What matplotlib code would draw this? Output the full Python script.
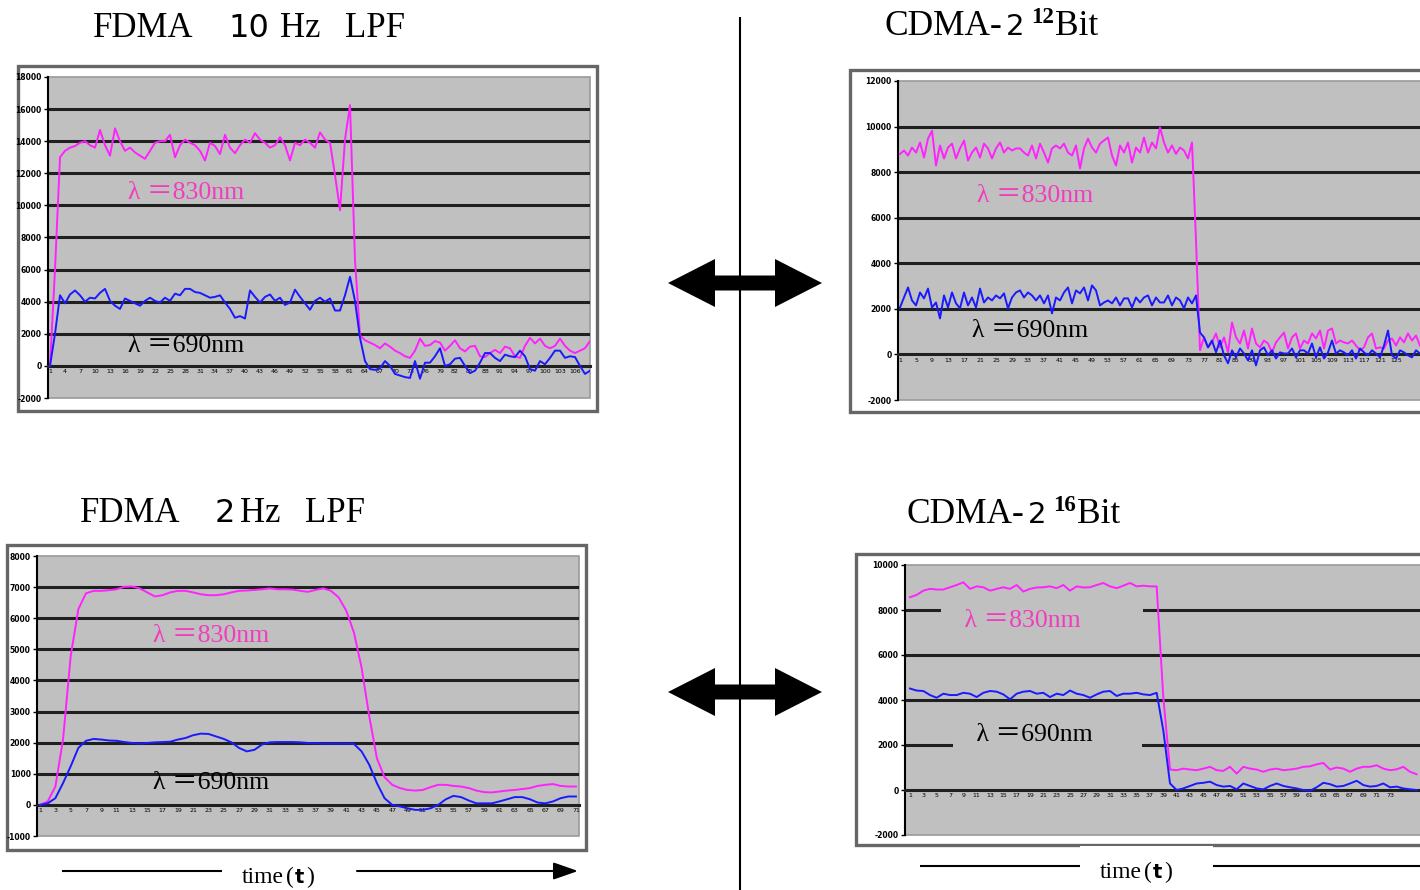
import numpy as np
import matplotlib
matplotlib.use('Agg')
import matplotlib.pyplot as plt
from matplotlib.patches import Rectangle, FancyArrow

W, H = 1420, 890

# ---- FDMA 10Hz LPF (top left) ----
fdma10_pink = [
    0, 6000, 13000, 13400, 13600, 13700, 13900, 14000, 13750, 13600,
    14700, 13750, 13100, 14800, 14000, 13400, 13600, 13300, 13100, 12900,
    13400, 13900, 14000, 14000, 14400, 13000, 13750, 14100, 13900, 13750,
    13400, 12800, 13900, 13700, 13200, 14400, 13600, 13250, 13750, 14100,
    13900, 14500, 14100, 13900, 13600, 13750, 14250, 13750, 12800, 13900,
    13750, 14100, 13900, 13600, 14550, 14100, 13900, 11900, 9700, 14100,
    16250, 6600, 1900, 1600, 1450, 1300, 1100, 1400, 1200, 950,
    800, 600, 500, 950, 1700, 1250, 1300, 1550, 1450, 950,
    1250, 1600, 1100, 900, 1200, 1250, 600, 550, 800, 1000,
    800, 1200, 1100, 600, 500, 1250, 1750, 1400, 1700, 1250,
    1100, 1250, 1700, 1250, 950, 800, 950, 1100, 1550]
fdma10_blue = [
    0, 2000, 4400, 3900, 4450, 4700, 4400, 4000, 4250, 4200,
    4550, 4800, 4050, 3750, 3550, 4200, 4050, 3900, 3750, 4050,
    4250, 4050, 3950, 4250, 4050, 4500, 4400, 4800, 4800, 4600,
    4550, 4400, 4250, 4300, 4400, 3950, 3550, 3000, 3100, 2950,
    4700, 4300, 3950, 4300, 4450, 4050, 4250, 3800, 3950, 4750,
    4300, 3900, 3500, 4050, 4250, 4000, 4200, 3450, 3450, 4400,
    5550, 4050, 1750, 300, -200, -250, -150, 300, 0, -500,
    -600, -700, -750, 300, -800, 200, 200, 600, 1100, 0,
    100, 450, 500, 0, -450, -300, 200, 800, 800, 500,
    300, 700, 600, 550, 950, 600, -200, -300, 300, 100,
    500, 950, 950, 500, 600, 550, 0, -500, -300]
fdma10_yticks = [-2000, 0, 2000, 4000, 6000, 8000, 10000, 12000, 14000, 16000, 18000]

# ---- CDMA 2^12 bit (top right) ----
cdma12_pink = [
    8800, 8950, 8730, 9080, 8860, 9300, 8640, 9470, 9820, 8290,
    9170, 8600, 9080, 9250, 8600, 9040, 9390, 8510, 8860, 9080,
    8640, 9250, 9040, 8600, 9040, 9300, 8860, 9080, 8950, 9040,
    9040, 8860, 8730, 9170, 8600, 9250, 8860, 8420, 9040, 9170,
    9040, 9250, 8860, 8730, 9170, 8160, 9040, 9470, 9080, 8860,
    9250, 9390, 9520, 8730, 8290, 9170, 8860, 9300, 8420, 9080,
    8860, 9520, 8860, 9300, 9040, 9960, 9300, 8860, 9170, 8800,
    9080, 8950, 8600, 9300, 5000, 180, 750, 310, 530, 920,
    310, 750, 90, 1400, 750, 480, 1050, 260, 1140, 480,
    310, 610, 480, 90, 530, 750, 960, 260, 750, 920,
    260, 610, 480, 920, 700, 1050, 260, 1050, 1140, 480,
    610, 530, 480, 610, 390, 180, 310, 750, 920, 260,
    310, 260, 610, 700, 390, 750, 530, 920, 610, 830,
    390]
cdma12_blue = [
    2060, 2500, 2940, 2370, 2150, 2720, 2460, 2890, 2060, 2280,
    1580, 2590, 2060, 2720, 2240, 2020, 2720, 2150, 2500, 2060,
    2890, 2280, 2500, 2370, 2590, 2460, 2680, 2020, 2500, 2720,
    2810, 2500, 2720, 2590, 2370, 2590, 2240, 2590, 1800, 2500,
    2370, 2720, 2940, 2240, 2810, 2680, 2940, 2370, 3030, 2810,
    2150, 2280, 2370, 2240, 2500, 2150, 2460, 2460, 2060, 2500,
    2280, 2500, 2590, 2150, 2500, 2280, 2280, 2590, 2150, 2500,
    2370, 2020, 2500, 2240, 2590, 960, 750, 310, 610, 90,
    610, -40, -390, 180, -130, 260, 40, -260, 180, -480,
    180, 310, -40, 180, -180, 90, 40, 40, 260, -130,
    180, 180, 40, 480, -130, 310, -180, 90, 610, 40,
    180, 90, -40, 180, -180, 260, 90, -40, 180, 40,
    -130, 390, 1050, -40, -180, 180, 90, -40, -130, 180,
    40]
cdma12_yticks = [-2000, 0, 2000, 4000, 6000, 8000, 10000, 12000]

# ---- FDMA 2Hz LPF (bottom left) ----
fdma2_pink = [
    0, 110, 590, 2100, 4780, 6290, 6800, 6880, 6880, 6900,
    6930, 7010, 7020, 6960, 6830, 6700, 6740, 6830, 6880, 6880,
    6830, 6770, 6740, 6740, 6770, 6830, 6880, 6890, 6910, 6930,
    6960, 6930, 6930, 6920, 6880, 6850, 6910, 6960, 6880, 6670,
    6240, 5540, 4410, 2850, 1500, 890, 645, 540, 480, 460,
    480, 570, 645, 645, 610, 590, 540, 460, 410, 400,
    430, 460, 480, 510, 540, 610, 645, 670, 610, 590,
    590]
fdma2_blue = [
    0, 50, 215, 700, 1240, 1830, 2060, 2120, 2100, 2070,
    2060, 2020, 1990, 1970, 1990, 2010, 2020, 2030, 2100, 2150,
    2240, 2290, 2280, 2200, 2120, 2010, 1830, 1720, 1770, 1940,
    2010, 2020, 2020, 2020, 2010, 1990, 1980, 1970, 1970, 1970,
    1970, 1960, 1720, 1290, 700, 215, 0, -50, -110, -160,
    -160, -110, 0, 180, 290, 250, 140, 50, 50, 50,
    110, 180, 250, 250, 180, 75, 50, 110, 215, 270,
    270]
fdma2_yticks = [-1000, 0, 1000, 2000, 3000, 4000, 5000, 6000, 7000, 8000]

# ---- CDMA 2^16 bit (bottom right) ----
cdma16_pink = [
    8570, 8670, 8860, 8940, 8910, 8910, 9010, 9110, 9230, 8940,
    9050, 9010, 8860, 8940, 9010, 8940, 9110, 8820, 8940, 9000,
    9010, 9050, 8970, 9110, 8860, 9050, 9000, 9010, 9110, 9200,
    9050, 8970, 9080, 9200, 9050, 9080, 9050, 9050, 4100, 910,
    880, 950, 910, 880, 950, 1030, 880, 850, 1030, 730,
    1030, 950, 910, 810, 910, 950, 880, 910, 950, 1030,
    1050, 1140, 1200, 910, 1000, 950, 810, 950, 1030, 1030,
    1100, 950, 880, 920, 1030, 810, 700]
cdma16_blue = [
    4510, 4420, 4400, 4220, 4100, 4280, 4220, 4220, 4320, 4280,
    4130, 4320, 4400, 4370, 4250, 4030, 4280, 4370, 4400, 4280,
    4320, 4130, 4280, 4220, 4420, 4280, 4220, 4100, 4250, 4370,
    4400, 4180, 4280, 4280, 4320, 4250, 4220, 4320, 2640, 290,
    0, 70, 180, 290, 320, 370, 220, 150, 180, 30,
    290, 180, 70, 30, 180, 290, 180, 120, 70, 0,
    -30, 120, 320, 260, 150, 180, 290, 410, 220, 150,
    180, 290, 120, 150, 70, 30, 0]
cdma16_yticks = [-2000, 0, 2000, 4000, 6000, 8000, 10000]

PINK = '#ff22ff'
PINK_TXT = '#f23cbe'
BLUE = '#1a1aff'
PLOT_BG = '#c0c0c0'
GRID = '#202020'
FRAME = '#666666'
SERIF = ['Liberation Serif', 'Noto Sans CJK JP']

fig = plt.figure(figsize=(W / 100, H / 100), dpi=100)
bg = fig.add_axes([0, 0, 1, 1])
bg.set_xlim(0, W)
bg.set_ylim(H, 0)
bg.axis('off')


def px_axes(x0, y0, x1, y1):
    return fig.add_axes([x0 / W, 1 - y1 / H, (x1 - x0) / W, (y1 - y0) / H])


def draw_chart(frame, area, pink, blue, xlim, yticks, xstep, xlast):
    fx0, fy0, fx1, fy1 = frame
    bg.add_patch(Rectangle((fx0, fy0), fx1 - fx0, fy1 - fy0,
                           facecolor='white', edgecolor=FRAME, lw=2.4))
    ax = px_axes(*area)
    ax.set_facecolor(PLOT_BG)
    ax.patch.set_edgecolor('#9a9a9a')
    ax.patch.set_linewidth(1.2)
    t = np.arange(len(pink))
    for v in yticks[1:-1]:
        if v != 0:
            ax.axhline(v, color=GRID, lw=2.2, zorder=1)
    ax.plot(t, pink, color=PINK, lw=1.4, zorder=4)
    ax.plot(t, blue, color=BLUE, lw=1.4, zorder=4)
    ax.set_xlim(*xlim)
    ax.set_ylim(yticks[0], yticks[-1])
    ax.set_yticks(yticks, labels=[str(v) for v in yticks])
    ticks = [i for i in t[::xstep] if i <= xlast]
    ax.set_xticks(ticks, labels=[str(i + 1) for i in ticks])
    ax.tick_params(axis='x', length=0, pad=2.5, labelsize=4.5)
    ax.tick_params(axis='y', length=3, width=1, pad=1.5, labelsize=5.5)
    for lb in ax.get_xticklabels() + ax.get_yticklabels():
        lb.set_fontweight('bold')
    for s in ['top', 'right']:
        ax.spines[s].set_visible(False)
    ax.spines['left'].set_color('black')
    ax.spines['left'].set_linewidth(1.5)
    ax.spines['bottom'].set_position(('data', 0))
    ax.spines['bottom'].set_color(GRID)
    ax.spines['bottom'].set_linewidth(2.2)
    return ax


def label(ax, x, y, s, color, box=False):
    kw = dict(fontsize=18.5, family=SERIF, color=color, ha='left', va='center', zorder=3)
    if box:
        kw['bbox'] = dict(facecolor=PLOT_BG, edgecolor='none', pad=3)
    ax.text(x, y, s, **kw)


# charts
ax1 = draw_chart((18, 66, 597, 411), (48, 77, 590, 398), fdma10_pink, fdma10_blue,
                 (-0.4, 108), fdma10_yticks, 3, 105)
label(ax1, 15.6, 10800, 'λ ＝830nm', PINK_TXT)
label(ax1, 15.6, 1250, 'λ ＝690nm', 'black')

ax2 = draw_chart((850, 70, 1500, 412), (898, 81, 1480, 400), cdma12_pink, cdma12_blue,
                 (-0.5, 145), cdma12_yticks, 4, 125)
label(ax2, 19.2, 6970, 'λ ＝830nm', PINK_TXT)
label(ax2, 18.0, 1010, 'λ ＝690nm', 'black')

ax3 = draw_chart((7, 545, 586, 850), (37, 556, 579, 836), fdma2_pink, fdma2_blue,
                 (-0.4, 70.4), fdma2_yticks, 2, 70)
label(ax3, 14.7, 5420, 'λ ＝830nm', PINK_TXT)
label(ax3, 14.7, 710, 'λ ＝690nm', 'black')

ax4 = draw_chart((856, 554, 1500, 845), (905, 565, 1480, 835), cdma16_pink, cdma16_blue,
                 (-0.75, 85.5), cdma16_yticks, 2, 73)
label(ax4, 5.25, 7520, '   λ ＝830nm         ', PINK_TXT, box=True)
label(ax4, 7.05, 2450, '   λ ＝690nm       ', 'black', box=True)

# titles, placed piece by piece
ser = dict(family='Liberation Serif', va='baseline', ha='left')
sans = dict(family='DejaVu Sans', va='baseline', ha='left')
bg.text(93, 37, 'FDMA', fontsize=25, **ser)
bg.text(228, 37, '10', fontsize=23, **sans)
bg.text(280, 37, 'Hz', fontsize=25, **ser)
bg.text(345, 37, 'LPF', fontsize=25, **ser)

bg.text(80, 522, 'FDMA', fontsize=25, **ser)
bg.text(215, 522, '2', fontsize=23, **sans)
bg.text(240, 522, 'Hz', fontsize=25, **ser)
bg.text(305, 522, 'LPF', fontsize=25, **ser)

for x0, y0, sup in [(885, 35, '12'), (907, 523, '16')]:
    bg.text(x0, y0, 'CDMA-', fontsize=25.5, **ser)
    bg.text(x0 + 121, y0, '2', fontsize=21, **sans)
    bg.text(x0 + 146, y0 - 12, sup, fontsize=16.5, fontweight='bold', **ser)
    bg.text(x0 + 170, y0, 'Bit', fontsize=25.5, **ser)

# divider and double arrows
bg.vlines(740, 17, H, color='black', lw=1.5)
for yc in [283, 692]:
    for tip in [668, 822]:
        bg.add_patch(FancyArrow(745, yc, tip - 745, 0, width=15, head_width=48,
                                head_length=47, length_includes_head=True,
                                color='black', lw=0))

# time axes under the bottom charts
bg.hlines(871, 62, 222, color='black', lw=1.5)
bg.annotate('', xy=(578, 871), xytext=(357, 871),
            arrowprops=dict(arrowstyle='-|>,head_length=1.0,head_width=0.35',
                            color='black', lw=1.5, mutation_scale=15,
                            shrinkA=0, shrinkB=0))
bg.add_patch(Rectangle((1080, 846), 133, 44, facecolor='white', edgecolor='none', zorder=3))
bg.hlines(866, 920, 1080, color='black', lw=1.5)
bg.hlines(866, 1213, 1430, color='black', lw=1.5)
for x0, y0 in [(242, 883), (1100, 878)]:
    bg.text(x0, y0, 'time', fontsize=17, zorder=4, **ser)
    bg.text(x0 + 44, y0, '(', fontsize=17, zorder=4, **ser)
    bg.text(x0 + 53, y0, 't', fontsize=14, fontweight='bold', zorder=4, **sans)
    bg.text(x0 + 64, y0, ')', fontsize=17, zorder=4, **ser)

fig.savefig('out.png', dpi=100)
